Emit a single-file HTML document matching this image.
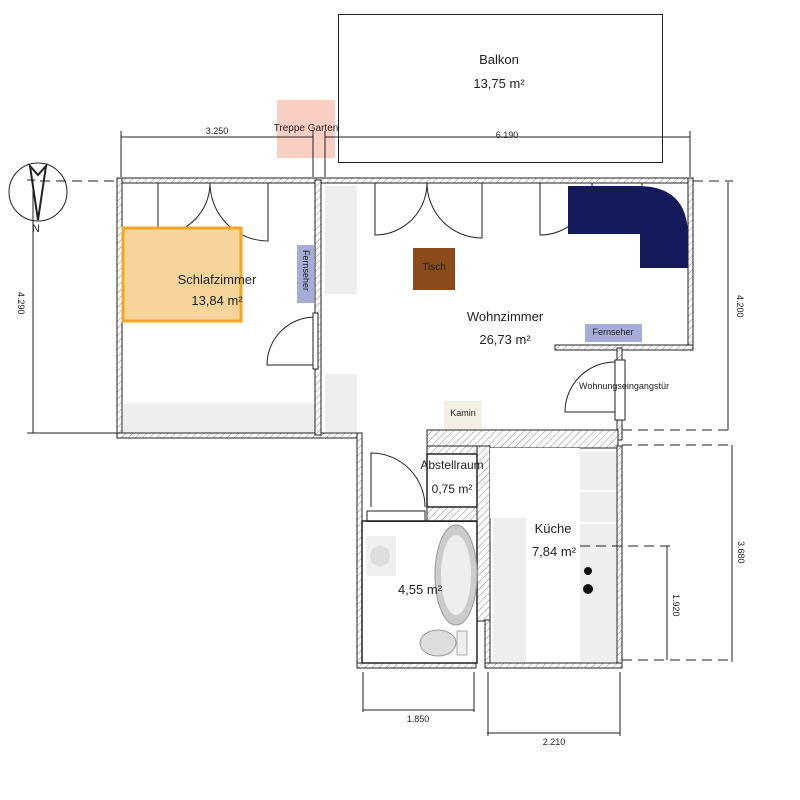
<!DOCTYPE html>
<html><head><meta charset="utf-8"><style>body{margin:0;background:#fff}svg{display:block}text{font-family:"Liberation Sans",sans-serif;fill:#222}</style></head><body>
<svg width="800" height="800" viewBox="0 0 800 800" xmlns="http://www.w3.org/2000/svg">
<defs><pattern id="h" width="5" height="5" patternUnits="userSpaceOnUse" patternTransform="rotate(45)"><rect width="5" height="5" fill="#fff"/><line x1="0" y1="0" x2="0" y2="5" stroke="#888" stroke-width="1"/></pattern></defs>
<!-- Balkon -->
<rect x="338.5" y="14.5" width="324" height="148" fill="#fff" stroke="#222"/>
<text x="499" y="64" font-size="13" text-anchor="middle">Balkon</text>
<text x="499" y="88" font-size="13" text-anchor="middle">13,75 m²</text>
<rect x="277" y="100" width="58" height="58" fill="#f9cfc3"/>
<text x="306" y="131" font-size="10" text-anchor="middle">Treppe Garten</text>
<!-- furniture grey -->
<rect x="123" y="403" width="193" height="30" fill="#eee"/>
<rect x="325" y="186" width="32" height="108" fill="#eee"/>
<rect x="325" y="374" width="32" height="58" fill="#eee"/>
<rect x="493" y="518" width="33" height="144" fill="#eee"/>
<rect x="580" y="452" width="36" height="38" fill="#eee"/>
<rect x="580" y="492" width="36" height="30" fill="#eee"/>
<rect x="580" y="524" width="36" height="138" fill="#eee"/>
<rect x="367" y="511" width="58" height="11" fill="#fff" stroke="#222"/>
<!-- walls -->
<g stroke="#222" fill="url(#h)">
<rect x="117" y="178" width="576" height="5"/>
<rect x="117" y="178" width="5" height="260"/>
<rect x="117" y="433" width="242" height="5"/>
<rect x="315" y="180" width="6" height="255"/>
<rect x="688" y="178" width="5" height="172"/>
<rect x="555" y="345" width="138" height="5"/>
<rect x="617" y="348" width="5" height="92"/>
<rect x="357" y="433" width="5" height="235"/>
<rect x="427" y="430" width="191" height="18"/>
<rect x="477" y="446" width="13" height="175"/>
<rect x="427" y="446" width="50" height="8"/>
<rect x="427" y="507" width="50" height="15"/>
<rect x="471" y="620" width="5" height="48"/>
<rect x="485" y="620" width="5" height="48"/>
<rect x="617" y="446" width="5" height="222"/>
<rect x="357" y="663" width="119" height="5"/>
<rect x="485" y="663" width="137" height="5"/>
</g>
<rect x="427" y="454" width="50" height="53" fill="#fff" stroke="#222" stroke-width="1.5"/>
<rect x="362" y="522" width="115" height="141" fill="#fff"/>
<rect x="490" y="448" width="90" height="70" fill="#fff"/>
<rect x="526" y="518" width="54" height="144" fill="#fff"/>
<rect x="362" y="521" width="115" height="142" fill="none" stroke="#222" stroke-width="1.5"/>
<!-- window doors -->
<g stroke="#222" fill="none" stroke-width="1">
<path d="M158 183v52A52 52 0 0 0 210 183M268 183v58A58 58 0 0 1 210 183"/>
<path d="M375 183v52A52 52 0 0 0 427 183M482 183v55A55 55 0 0 1 427 183"/>
<path d="M540 183v52A52 52 0 0 0 592 183M642 183v50A50 50 0 0 1 592 183"/>
<path d="M315 317a48 48 0 0 0 -48 48h48"/>
<rect x="313" y="313" width="5" height="56" fill="#fff"/>
<path d="M615 362a50 50 0 0 0 -50 50h50"/>
<rect x="615" y="360" width="10" height="60" fill="#fff"/>
<path d="M371 507V453A54 54 0 0 1 425 507"/>
</g>
<!-- coloured items -->
<rect x="123" y="228" width="118" height="93" fill="#f7d59a" stroke="#f2a623" stroke-width="3"/>
<text x="217" y="284" font-size="13" text-anchor="middle">Schlafzimmer</text>
<text x="217" y="305" font-size="13" text-anchor="middle">13,84 m²</text>
<rect x="297" y="245" width="17" height="58" fill="#a6acd8"/>
<text font-size="9" transform="translate(303,250) rotate(90)">Fernseher</text>
<rect x="413" y="248" width="42" height="42" fill="#8b4a1a"/>
<text x="434" y="270" font-size="10" text-anchor="middle">Tisch</text>
<path d="M568 186h70q50 0 50 50v32h-48v-34h-72z" fill="#141a5c"/>
<rect x="585" y="324" width="57" height="18" fill="#a6acd8"/>
<text x="613" y="335" font-size="9" text-anchor="middle">Fernseher</text>
<rect x="444" y="401" width="38" height="28" fill="#f4efe4"/>
<text x="463" y="416" font-size="9" text-anchor="middle">Kamin</text>
<text x="505" y="321" font-size="13" text-anchor="middle">Wohnzimmer</text>
<text x="505" y="344" font-size="13" text-anchor="middle">26,73 m²</text>
<text x="624" y="389" font-size="9" text-anchor="middle">Wohnungseingangstür</text>
<text x="452" y="469" font-size="12" text-anchor="middle">Abstellraum</text>
<text x="452" y="493" font-size="12" text-anchor="middle">0,75 m²</text>
<text x="553" y="533" font-size="13" text-anchor="middle">Küche</text>
<text x="554" y="556" font-size="13" text-anchor="middle">7,84 m²</text>
<circle cx="588" cy="571" r="4" fill="#111"/><circle cx="588" cy="589" r="5" fill="#111"/>
<rect x="366" y="536" width="30" height="40" fill="#f0f0f0"/><ellipse cx="380" cy="556" rx="10" ry="10" fill="#ddd"/>
<ellipse cx="456" cy="575" rx="21" ry="50" fill="#ccc" stroke="#999"/><ellipse cx="456" cy="575" rx="15" ry="40" fill="#eee"/>
<ellipse cx="438" cy="643" rx="18" ry="13" fill="#ddd" stroke="#999"/><rect x="457" y="631" width="10" height="24" fill="#eee" stroke="#aaa"/>
<text x="420" y="594" font-size="13" text-anchor="middle">4,55 m²</text>
<!-- dimensions -->
<g stroke="#222" fill="none" stroke-width="1">
<path d="M121 137h192M121 131v46M313 131v46M325 137h365M325 131v46M690 131v46"/>
<path d="M33 180v253M27 433h90M27 180h8"/>
<path d="M728 182v248M732 445v217M667 546v114M487 733h133M363 710h111"/>
<path d="M363 672v40M474 672v40M488 672v64M620 672v64"/>
</g>
<g stroke="#222" stroke-dasharray="10,6" fill="none">
<path d="M40 181h77M40 433h77M693 181h40M622 430h110M622 445h110M580 546h92M622 660h110"/>
</g>
<text x="217" y="134" font-size="9" text-anchor="middle">3.250</text>
<text x="507" y="138" font-size="9" text-anchor="middle">6.190</text>
<text x="418" y="722" font-size="9" text-anchor="middle">1.850</text>
<text x="554" y="745" font-size="9" text-anchor="middle">2.210</text>
<text font-size="9" transform="translate(18,292) rotate(90)">4.290</text>
<text font-size="9" transform="translate(737,295) rotate(90)">4.200</text>
<text font-size="9" transform="translate(738,541) rotate(90)">3.680</text>
<text font-size="9" transform="translate(673,594) rotate(90)">1.920</text>
<!-- compass -->
<circle cx="38" cy="192" r="29" fill="none" stroke="#222"/>
<path d="M30 166l8 9l8-9l-8 54z" fill="none" stroke="#222" stroke-width="2"/>
<text x="32" y="232" font-size="11">N</text>
</svg>
</body></html>
